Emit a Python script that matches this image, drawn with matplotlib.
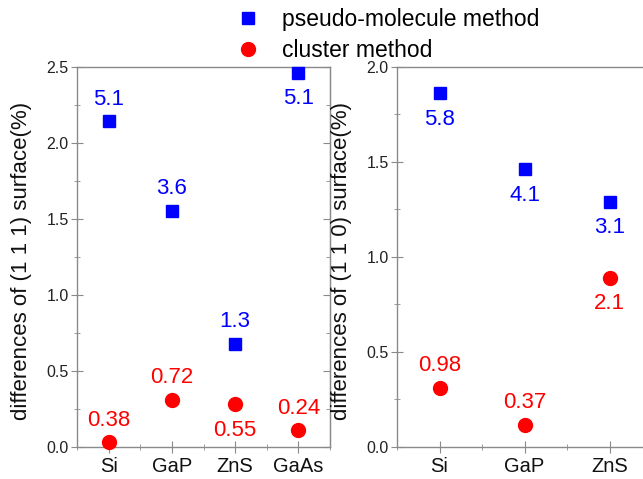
import numpy as np
import matplotlib.pyplot as plt
from matplotlib.ticker import MultipleLocator

plt.rcParams['font.family'] = ['Liberation Sans', 'DejaVu Sans']

# (111) surface
cats_111 = ["Si", "GaP", "ZnS", "GaAs"]
pseudo_111 = [2.14, 1.55, 0.68, 2.46]
cluster_111 = [0.03, 0.31, 0.28, 0.11]
pseudo_111_txt = ["5.1", "3.6", "1.3", "5.1"]
cluster_111_txt = ["0.38", "0.72", "0.55", "0.24"]
pseudo_111_side = [1, 1, 1, -1]     # 1 = label above, -1 = below
cluster_111_side = [1, 1, -1, 1]

# (110) surface
cats_110 = ["Si", "GaP", "ZnS"]
pseudo_110 = [1.86, 1.46, 1.29]
cluster_110 = [0.31, 0.115, 0.89]
pseudo_110_txt = ["5.8", "4.1", "3.1"]
cluster_110_txt = ["0.98", "0.37", "2.1"]
pseudo_110_side = [-1, -1, -1]
cluster_110_side = [1, 1, -1]

BLUE = "#0000ff"
RED = "#ff0000"
GRAY = "#8a8a8a"

fig = plt.figure(figsize=(6.43, 4.79), dpi=100)
ax1 = fig.add_axes([77 / 643, 32 / 479, 253 / 643, 380.3 / 479])
ax2 = fig.add_axes([397 / 643, 32 / 479, 255 / 643, 380.3 / 479])


def offset(s):
    # labels below the marker sit a little further away
    return 16 * s if s > 0 else 18.5 * s


def panel(ax, cats, pv, cv, ptxt, ctxt, pside, cside, ymax, ylabel):
    x = np.arange(1, len(cats) + 1)
    ax.plot(x, pv, ls="none", marker="s", ms=9, color=BLUE, mec=BLUE,
            label="pseudo-molecule method", clip_on=False, zorder=3)
    ax.plot(x, cv, ls="none", marker="o", ms=10, color=RED, mec=RED,
            label="cluster method", clip_on=False, zorder=3)
    for xi, yi, t, s in zip(x, pv, ptxt, pside):
        ax.annotate(t, (xi, yi), xytext=(0, offset(s)), textcoords="offset points",
                    ha="center", va="center", color=BLUE, fontsize=16)
    for xi, yi, t, s in zip(x, cv, ctxt, cside):
        ax.annotate(t, (xi, yi), xytext=(0, offset(s)), textcoords="offset points",
                    ha="center", va="center", color=RED, fontsize=16)
    ax.set_xlim(0.5, len(cats) + 0.5)
    ax.set_ylim(0, ymax)
    ax.set_xticks(x)
    ax.set_xticklabels(cats, fontsize=14.5, color="#111111")
    ax.xaxis.set_minor_locator(MultipleLocator(0.5))
    ax.yaxis.set_major_locator(MultipleLocator(0.5))
    ax.yaxis.set_minor_locator(MultipleLocator(0.25))
    ax.tick_params(axis="y", which="major", direction="inout", length=8,
                   color=GRAY, labelsize=11.5, labelcolor="#222222", pad=2)
    ax.tick_params(axis="y", which="minor", direction="inout", length=5, color=GRAY)
    ax.tick_params(axis="x", which="major", direction="inout", length=8,
                   color=GRAY, pad=3)
    ax.tick_params(axis="x", which="minor", direction="inout", length=5, color=GRAY)
    for sp in ax.spines.values():
        sp.set_color(GRAY)
        sp.set_linewidth(1.0)
    sec = ax.secondary_yaxis("right")
    sec.yaxis.set_major_locator(MultipleLocator(0.5))
    sec.yaxis.set_minor_locator(MultipleLocator(0.25))
    sec.tick_params(which="major", direction="in", length=5, color=GRAY, labelright=False)
    sec.tick_params(which="minor", direction="in", length=3, color=GRAY)
    sec.spines["right"].set_color(GRAY)
    ax.set_ylabel(ylabel, fontsize=16, color="#111111")


panel(ax1, cats_111, pseudo_111, cluster_111, pseudo_111_txt, cluster_111_txt,
      pseudo_111_side, cluster_111_side, 2.5, "differences of (1 1 1) surface(%)")
panel(ax2, cats_110, pseudo_110, cluster_110, pseudo_110_txt, cluster_110_txt,
      pseudo_110_side, cluster_110_side, 2.0, "differences of (1 1 0) surface(%)")
ax1.yaxis.set_label_coords(-0.178, 0.49)
ax2.yaxis.set_label_coords(-0.176, 0.49)

handles, labels = ax1.get_legend_handles_labels()
fig.legend(handles, labels, loc="upper left", bbox_to_anchor=(226 / 643, 1.0),
           frameon=False, fontsize=16.5, handlelength=1.2, handletextpad=0.9,
           labelspacing=0.35, borderpad=0.35, borderaxespad=0)

fig.savefig("out.png", dpi=100)
